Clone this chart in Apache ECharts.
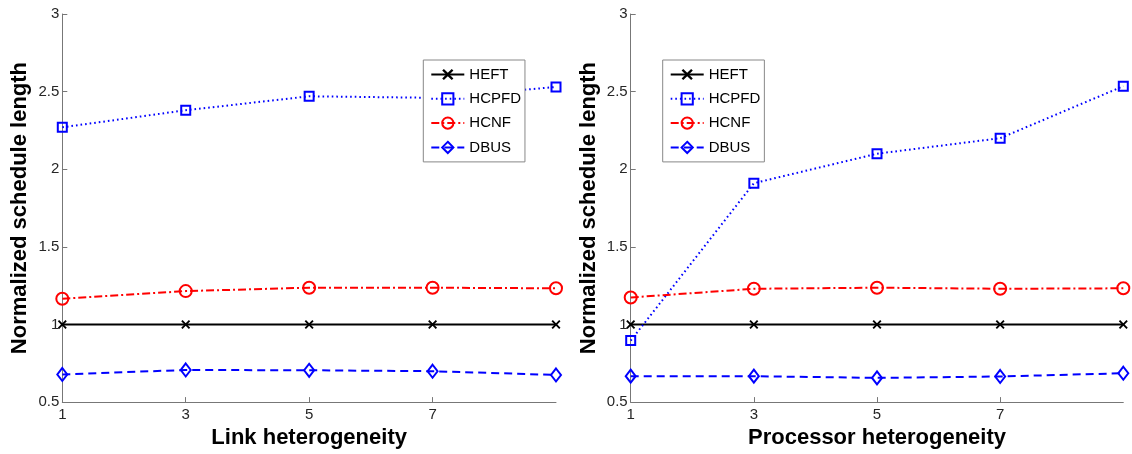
<!DOCTYPE html>
<html>
<head>
<meta charset="utf-8">
<script src="https://cdn.jsdelivr.net/npm/echarts@6/dist/echarts.min.js"></script>
<style>
html,body{margin:0;padding:0;background:#fff;}
#c{width:1132px;height:454px;}
</style>
</head>
<body>
<div id="c"></div>
<script>
var xValues = [1, 3, 5, 7, 9];
var xTickLabels = [1, 3, 5, 7];
var seriesNames = ['HEFT', 'HCPFD', 'HCNF', 'DBUS'];

var linkHEFT  = [1, 1, 1, 1, 1];
var linkHCPFD = [2.27, 2.38, 2.47, 2.46, 2.53];
var linkHCNF  = [1.166, 1.215, 1.237, 1.237, 1.233];
var linkDBUS  = [0.678, 0.707, 0.705, 0.699, 0.675];

var procHEFT  = [1, 1, 1, 1, 1];
var procHCPFD = [0.896, 1.91, 2.10, 2.20, 2.535];
var procHCNF  = [1.174, 1.23, 1.237, 1.23, 1.233];
var procDBUS  = [0.667, 0.667, 0.656, 0.665, 0.686];

var xTitles = ['Link heterogeneity', 'Processor heterogeneity'];
var yTitle = 'Normalized schedule length';

var FONT = "'Liberation Sans', Arial, Helvetica, sans-serif";
var X_PATH = 'path://M0,1.5L1.5,0L5,3.5L8.5,0L10,1.5L6.5,5L10,8.5L8.5,10L5,6.5L1.5,10L0,8.5L3.5,5Z';

var styles = {
  HEFT:  {color: '#000000', type: 'solid', symbol: X_PATH, size: 9, filled: true},
  HCPFD: {color: '#0000ff', type: [1.6, 3], symbol: 'rect', size: 9},
  HCNF:  {color: '#ff0000', type: [8, 3, 2, 3], symbol: 'circle', size: 12},
  DBUS:  {color: '#0000ff', type: [8, 5], symbol: 'diamond', size: [10, 13]}
};

function zip(vals) {
  return xValues.map(function (x, i) { return [x, vals[i]]; });
}

function mkSeries(name, vals, idx) {
  var s = styles[name];
  return {
    name: name,
    type: 'line',
    xAxisIndex: idx,
    yAxisIndex: idx,
    data: zip(vals),
    symbol: s.symbol,
    symbolSize: s.size,
    showAllSymbol: true,
    clip: false,
    animation: false,
    lineStyle: {color: s.color, width: 2, type: s.type},
    itemStyle: s.filled ? {color: s.color, borderWidth: 0}
                        : {color: 'rgba(0,0,0,0)', borderColor: s.color, borderWidth: 2},
    emphasis: {disabled: true}
  };
}

var lefts = [62.3, 630.7];
var rights = [1132 - 556, 1132 - 1123.3];

var grids = [], xAxes = [], yAxes = [], legends = [];
for (var i = 0; i < 2; i++) {
  grids.push({left: lefts[i], right: rights[i], top: 14, bottom: 50.7, containLabel: false});
  xAxes.push({
    type: 'value', gridIndex: i, min: 1, max: 9,
    name: xTitles[i], nameLocation: 'middle', nameGap: 21,
    nameTextStyle: {fontFamily: FONT, fontWeight: 'bold', fontSize: 22, color: '#000'},
    axisLine: {lineStyle: {color: '#777', width: 1}},
    axisTick: {inside: true, length: 5, lineStyle: {color: '#777'}, customValues: xTickLabels},
    axisLabel: {fontFamily: FONT, fontSize: 15, color: '#262626', margin: 5, customValues: xTickLabels},
    splitLine: {show: false}
  });
  yAxes.push({
    type: 'value', gridIndex: i, min: 0.5, max: 3, interval: 0.5,
    name: yTitle, nameLocation: 'middle', nameGap: 31, nameRotate: 90,
    nameTextStyle: {fontFamily: FONT, fontWeight: 'bold', fontSize: 22, color: '#000'},
    axisLine: {show: true, lineStyle: {color: '#777', width: 1}},
    axisTick: {show: true, inside: true, length: 5, lineStyle: {color: '#777'}},
    axisLabel: {fontFamily: FONT, fontSize: 15, color: '#262626', margin: 3},
    splitLine: {show: false}
  });
}

var legendLefts = [423.3, 662.7];
for (var j = 0; j < 2; j++) {
  legends.push({
    orient: 'vertical',
    left: legendLefts[j], top: 60,
    data: seriesNames,
    backgroundColor: '#fff',
    borderColor: '#888', borderWidth: 1, borderRadius: 0,
    padding: [7, 4, 7, 7],
    itemWidth: 33, itemHeight: 14, itemGap: 9.3,
    selectedMode: false,
    textStyle: {fontFamily: FONT, fontSize: 15, color: '#000', lineHeight: 14}
  });
}

var series = [
  mkSeries('HEFT', linkHEFT, 0),
  mkSeries('HCPFD', linkHCPFD, 0),
  mkSeries('HCNF', linkHCNF, 0),
  mkSeries('DBUS', linkDBUS, 0),
  mkSeries('HEFT', procHEFT, 1),
  mkSeries('HCPFD', procHCPFD, 1),
  mkSeries('HCNF', procHCNF, 1),
  mkSeries('DBUS', procDBUS, 1)
];

var chart = echarts.init(document.getElementById('c'), null, {renderer: 'canvas'});
chart.setOption({
  backgroundColor: '#fff',
  animation: false,
  grid: grids,
  xAxis: xAxes,
  yAxis: yAxes,
  legend: legends,
  series: series
});
</script>
</body>
</html>
